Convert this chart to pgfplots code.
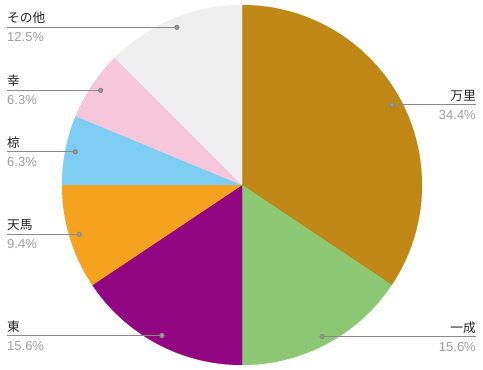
\documentclass[border=0pt]{standalone}
\usepackage{fontspec}
\setmainfont{Liberation Sans}
\newfontfamily\cjk{Noto Sans CJK JP}
\usepackage{pgfplots}
\pgfplotsset{compat=1.18}
\definecolor{cA}{HTML}{BF8716}
\definecolor{cB}{HTML}{8CC774}
\definecolor{cC}{HTML}{920682}
\definecolor{cD}{HTML}{F5A21E}
\definecolor{cE}{HTML}{7ECEF4}
\definecolor{cF}{HTML}{F6C6DB}
\definecolor{cG}{HTML}{EFEFEF}
\definecolor{lead}{HTML}{8A8A8A}
\definecolor{dotc}{HTML}{9E9E9E}
\definecolor{pct}{HTML}{9E9E9E}
\definecolor{nm}{HTML}{212121}
% slice values (percent) : 万里 34.375, 一成 15.625, 東 15.625, 天馬 9.375, 椋 6.25, 幸 6.25, その他 12.5
\newcommand{\slice}[3]{\addplot[fill=#1, draw=#1, line width=0.2pt, domain={#2*3.6}:{#3*3.6}, samples=90] ({242+180*sin(x)},{185+180*cos(x)}) -- (axis cs:242,185) -- cycle;}
\newcommand{\leadL}[4]{%
  \addplot[lead, line width=1.2pt, mark=*, mark size=2pt, mark indices={1}, mark options={fill=dotc, draw=none}] coordinates {(#1,#2) (7,#2)};
  \node[anchor=base west, inner sep=0pt, text=nm, font=\fontsize{12.7bp}{15bp}\cjk] at (axis cs:7,#2+4.5) {#3};
  \node[anchor=base west, inner sep=0pt, text=pct, font=\fontsize{13bp}{15bp}\selectfont] at (axis cs:7,#2-14.5) {#4};}
\newcommand{\leadR}[4]{%
  \addplot[lead, line width=1.2pt, mark=*, mark size=2pt, mark indices={1}, mark options={fill=dotc, draw=none}] coordinates {(#1,#2) (476,#2)};
  \node[anchor=base east, inner sep=0pt, text=nm, font=\fontsize{12.7bp}{15bp}\cjk] at (axis cs:476,#2+4.5) {#3};
  \node[anchor=base east, inner sep=0pt, text=pct, font=\fontsize{13bp}{15bp}\selectfont] at (axis cs:476,#2-14.5) {#4};}
\begin{document}
\begin{tikzpicture}
\begin{axis}[hide axis, scale only axis, width=483bp, height=370bp,
  xmin=0, xmax=483, ymin=0, ymax=370, clip=false]
\path[use as bounding box] (rel axis cs:0,0) rectangle (rel axis cs:1,1);
\slice{cA}{0}{34.375}
\slice{cB}{34.375}{50}
\slice{cC}{50}{65.625}
\slice{cD}{65.625}{75}
\slice{cE}{75}{81.25}
\slice{cF}{81.25}{87.5}
\slice{cG}{87.5}{100}
\leadR{391.9}{265.1}{万里}{34.4\%}
\leadR{322.1}{33.5}{一成}{15.6\%}
\leadL{161.9}{34.5}{東}{15.6\%}
\leadL{79.3}{135.7}{天馬}{9.4\%}
\leadL{75.3}{218.2}{椋}{6.3\%}
\leadL{100.6}{279.6}{幸}{6.3\%}
\leadL{176.9}{342.6}{その他}{12.5\%}
\end{axis}
\end{tikzpicture}
\end{document}
